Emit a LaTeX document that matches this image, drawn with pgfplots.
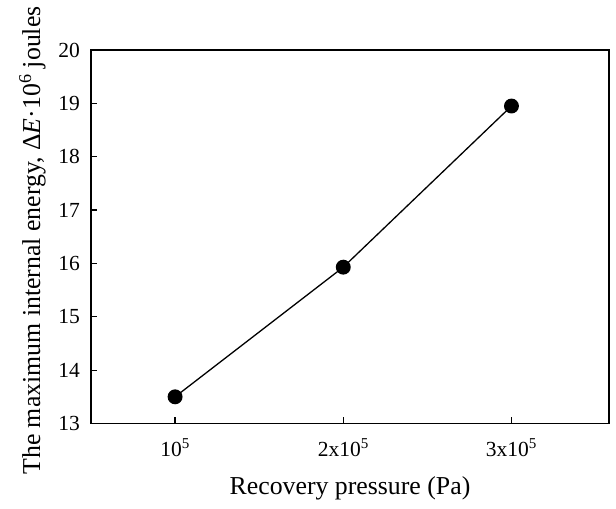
\documentclass[border=0pt]{standalone}
\usepackage{fontspec}
\setmainfont{Liberation Serif}
\usepackage{pgfplots}
\pgfplotsset{compat=1.18}

\begin{document}
\begin{tikzpicture}
\path[use as bounding box] (-91pt,-85pt) rectangle (525pt,423.5pt);
\begin{axis}[
    scale only axis,
    width=518pt, height=373.5pt,
    xmin=0.5, xmax=3.58,
    ymin=13, ymax=20,
    xtick={1,2,3},
    xticklabels={10\textsuperscript{5}, 2x10\textsuperscript{5}, 3x10\textsuperscript{5}},
    ytick={13,14,...,20},
    tick align=inside,
    tick pos=left,
    major tick length=6pt,
    axis line style={line width=1.6pt},
    every tick/.style={black, line width=1.2pt},
    /pgf/number format/assume math mode=true,
    tick label style={font=\fontsize{21.5}{24}\selectfont, inner sep=0pt},
    yticklabel style={xshift=-11pt},
    xticklabel style={yshift=-15pt},
    label style={font=\fontsize{25.8}{28}\selectfont, inner sep=0pt},
    xlabel={Recovery pressure (Pa)},
    xlabel style={at={(axis description cs:0.5,-0.142)}, anchor=north},
    ylabel={The maximum internal energy, Δ\textit{E}·10\textsuperscript{6} joules},
    ylabel style={at={(axis description cs:-0.087,0.49)}, anchor=south},
]
\addplot[black, line width=1.3pt, mark=*, mark size=6.8pt, mark options={fill=black}]
    coordinates {(1,13.50) (2,15.93) (3,18.95)};
\end{axis}
\end{tikzpicture}
\end{document}
